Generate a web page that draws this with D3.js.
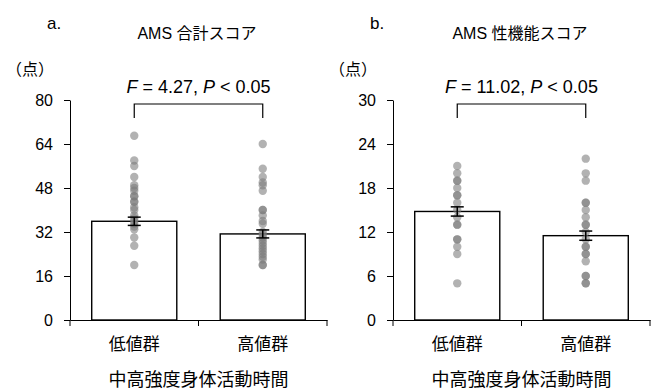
<!DOCTYPE html>
<html><head><meta charset="utf-8">
<script src="https://cdn.jsdelivr.net/npm/d3@7"></script>
<style>
html,body{margin:0;padding:0;background:#fff;}
svg text{font-family:"Liberation Sans",Arial,"Noto Sans CJK JP",sans-serif;fill:#000;}
.cjk{font-family:"Liberation Sans","Noto Sans CJK JP",sans-serif;}
</style>
</head><body>
<svg id="c" width="654" height="392"></svg>
<script>
const categories = ["低値群", "高値群"];
const panelLabels = ["a.", "b."];
const titles = ["AMS 合計スコア", "AMS 性機能スコア"];
const fValues = ["4.27", "11.02"];
const unitLabel = "（点）";
const xTitle = "中高強度身体活動時間";

const ticksA = [0, 16, 32, 48, 64, 80];
const meansA = [35.9, 31.3];
const semA = [1.5, 1.45];
const pointsA_low = [67, 58, 56, 52, 49, 48, 47, 45, 45, 43, 43, 41, 40, 38, 37, 36, 35, 34, 33, 30, 27, 20];
const pointsA_high = [64, 55, 52, 50, 49, 47, 40, 40, 38, 36, 35, 32, 31, 30, 29, 28, 27, 26, 25, 24, 23, 22, 20, 20];

const ticksB = [0, 6, 12, 18, 24, 30];
const meansB = [14.8, 11.5];
const semB = [0.63, 0.63];
const pointsB_low = [21, 20, 19, 19, 18, 17, 17, 16, 15, 14, 13, 13, 11, 11, 10, 9, 5];
const pointsB_high = [22, 20, 19, 16, 16, 15, 14, 13, 13, 12, 11, 10, 10, 9, 9, 8, 6, 6, 5, 5];

const svg = d3.select("#c");

function drawPanel(opts) {
  const {x0, label, title, fval, ticks, means, sems, points} = opts;
  const y0 = 320, yTop = 100, width = 257;
  const g = svg.append("g");
  const x = d3.scaleBand().domain(categories).range([x0, x0 + width])
    .paddingInner(0.338).paddingOuter(0.169);
  const y = d3.scaleLinear().domain([ticks[0], ticks[ticks.length - 1]]).range([y0, yTop]);

  // bars
  g.selectAll("rect.bar").data(categories).join("rect")
    .attr("x", d => x(d)).attr("width", x.bandwidth())
    .attr("y", (d, i) => y(means[i])).attr("height", (d, i) => y0 - y(means[i]))
    .attr("fill", "#fff").attr("stroke", "#000").attr("stroke-width", 1.4);

  // points
  categories.forEach((c, i) => {
    g.selectAll(null).data(points[i]).join("circle")
      .attr("cx", x(c) + x.bandwidth() / 2).attr("cy", d => y(d)).attr("r", 4.2)
      .attr("fill", "#7a7a7a").attr("fill-opacity", 0.58);
  });

  // error bars
  categories.forEach((c, i) => {
    const cx = x(c) + x.bandwidth() / 2;
    const hi = y(means[i] + sems[i]), lo = y(means[i] - sems[i]);
    g.append("line").attr("x1", cx).attr("x2", cx).attr("y1", hi).attr("y2", lo)
      .attr("stroke", "#000").attr("stroke-width", 1.5);
    [hi, lo].forEach(v => g.append("line").attr("x1", cx - 6.5).attr("x2", cx + 6.5)
      .attr("y1", v).attr("y2", v).attr("stroke", "#000").attr("stroke-width", 1.5));
  });

  // y axis
  const ya = g.append("g").attr("transform", `translate(${x0},0)`)
    .call(d3.axisLeft(y).tickValues(ticks).tickSize(6).tickSizeOuter(0).tickPadding(11));
  ya.select(".domain").attr("stroke", "#000");
  ya.selectAll(".tick line").attr("stroke", "#000");
  ya.selectAll(".tick text").attr("font-size", 16).attr("font-family", "Liberation Sans, Arial, sans-serif");

  // x axis
  const xa = g.append("g").attr("transform", `translate(0,${y0})`)
    .call(d3.axisBottom(x).tickSize(0).tickSizeOuter(0).tickPadding(18));
  xa.select(".domain").attr("stroke", "#000");
  xa.selectAll(".tick text").attr("font-size", 17).attr("font-family", "Noto Sans CJK JP, sans-serif");
  const midB = (x(categories[0]) + x.bandwidth() + x(categories[1])) / 2;
  [x0, midB, x0 + width].forEach(v => g.append("line").attr("x1", v).attr("x2", v)
    .attr("y1", y0).attr("y2", y0 + 6).attr("stroke", "#000"));

  // axis title
  g.append("text").attr("x", x0 + width / 2).attr("y", y0 + 66).attr("text-anchor", "middle")
    .attr("font-size", 18).attr("font-family", "Noto Sans CJK JP, sans-serif").text(xTitle);

  // panel label, title, unit
  g.append("text").attr("x", x0 - 23).attr("y", 29).attr("font-size", 17).text(label);
  g.append("text").attr("x", x0 + 127).attr("y", 39).attr("text-anchor", "middle")
    .attr("font-size", 16).attr("class", "cjk").text(title);
  g.append("text").attr("x", x0 - 64).attr("y", 75).attr("font-size", 16)
    .attr("font-family", "Noto Sans CJK JP, sans-serif").text(unitLabel);

  // significance bracket
  const c1 = x(categories[0]) + x.bandwidth() / 2, c2 = x(categories[1]) + x.bandwidth() / 2;
  const bt = 104, bb = 118;
  g.append("path").attr("d", `M${c1},${bb}V${bt}H${c2}V${bb}`)
    .attr("fill", "none").attr("stroke", "#000").attr("stroke-width", 1.2);
  const t = g.append("text").attr("x", (c1 + c2) / 2).attr("y", 93).attr("text-anchor", "middle")
    .attr("font-size", 18);
  t.append("tspan").attr("font-style", "italic").text("F");
  t.append("tspan").text(` = ${fval}, `);
  t.append("tspan").attr("font-style", "italic").text("P");
  t.append("tspan").text(" < 0.05");
}

drawPanel({x0: 70, label: panelLabels[0], title: titles[0], fval: fValues[0], ticks: ticksA,
  means: meansA, sems: semA, points: [pointsA_low, pointsA_high]});
drawPanel({x0: 393, label: panelLabels[1], title: titles[1], fval: fValues[1], ticks: ticksB,
  means: meansB, sems: semB, points: [pointsB_low, pointsB_high]});
</script>
</body></html>
